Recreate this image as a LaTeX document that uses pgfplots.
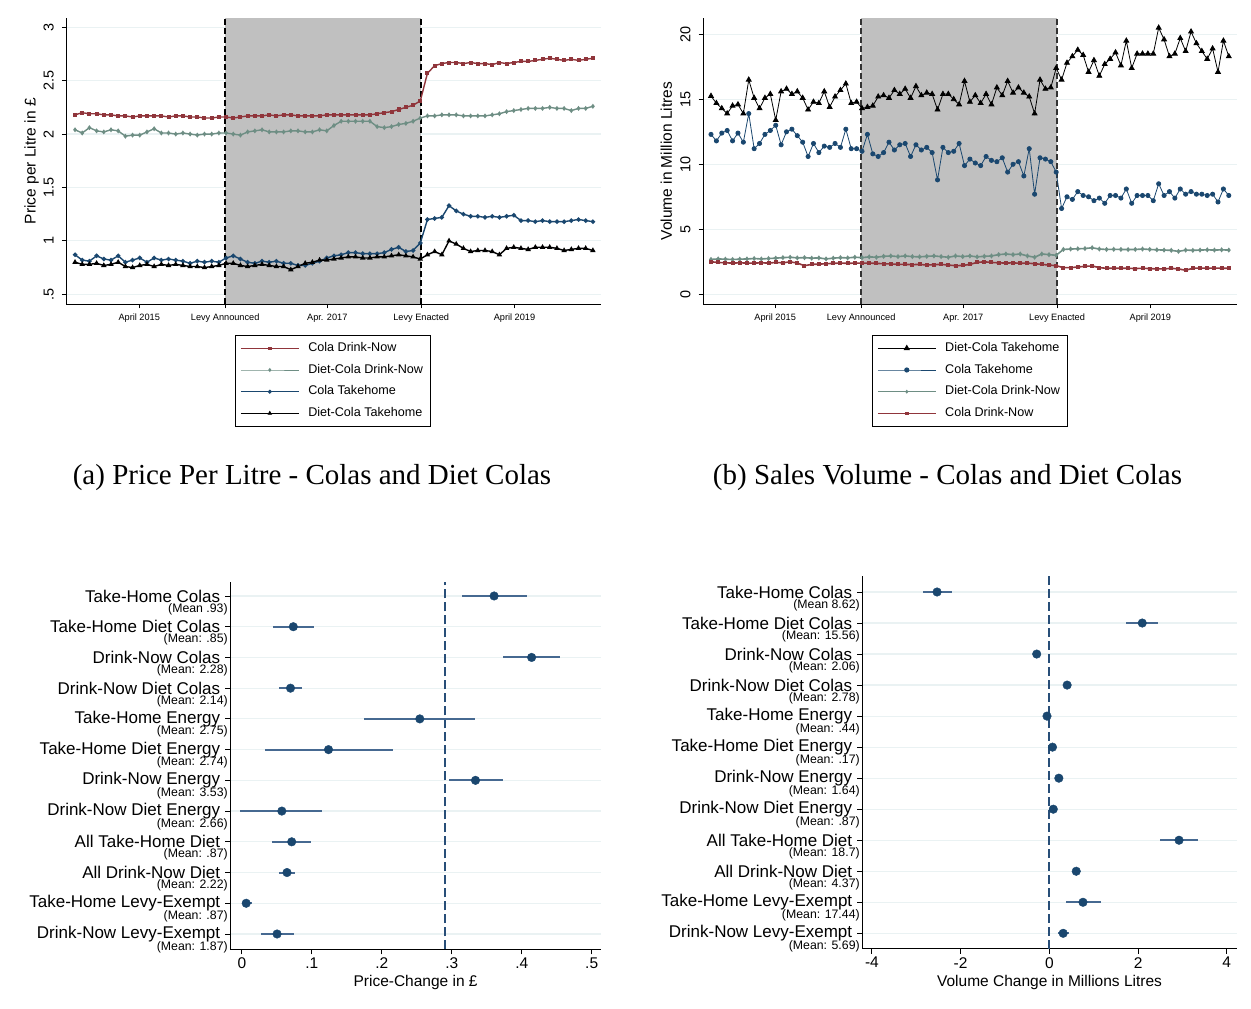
\documentclass[border=0pt]{standalone}
\usepackage{fontspec}
\usepackage{pgfplots}
\usepackage{pgfplotstable}
\pgfplotsset{compat=1.18}
\newfontfamily\arial{Liberation Sans}
\newfontfamily\capserif{Liberation Serif}
\newcommand\fs[1]{\arial\fontsize{#1}{#1}\selectfont}
\definecolor{maroonS}{RGB}{144,53,59}
\definecolor{tealS}{RGB}{110,142,132}
\definecolor{navyS}{RGB}{26,71,111}
\definecolor{ciS}{RGB}{70,105,145}
\definecolor{dashS}{RGB}{40,78,120}
\definecolor{gridS}{RGB}{234,242,243}
\definecolor{shadeS}{RGB}{192,192,192}

% ---------- Panel (a): price per litre, every 4 weeks ----------
\pgfplotstableread[row sep=\\]{v\\
2.18\\2.20\\2.19\\2.19\\2.18\\2.18\\2.17\\2.17\\2.16\\2.17\\
2.17\\2.17\\2.17\\2.16\\2.17\\2.17\\2.16\\2.16\\2.15\\2.15\\
2.16\\2.16\\2.15\\2.16\\2.17\\2.17\\2.17\\2.18\\2.17\\2.18\\
2.18\\2.17\\2.17\\2.17\\2.17\\2.18\\2.18\\2.18\\2.18\\2.18\\
2.18\\2.18\\2.19\\2.20\\2.21\\2.23\\2.25\\2.27\\2.31\\2.57\\
2.64\\2.66\\2.67\\2.67\\2.66\\2.67\\2.66\\2.66\\2.65\\2.67\\
2.66\\2.67\\2.68\\2.68\\2.69\\2.70\\2.71\\2.70\\2.69\\2.70\\
2.69\\2.70\\2.71\\
}\PaRed
\pgfplotstableread[row sep=\\]{v\\
2.04\\2.01\\2.06\\2.03\\2.02\\2.04\\2.03\\1.98\\1.99\\1.99\\
2.02\\2.05\\2.01\\2.01\\2.00\\2.01\\2.00\\1.99\\2.00\\2.00\\
2.01\\2.01\\2.00\\1.99\\2.02\\2.03\\2.04\\2.02\\2.02\\2.02\\
2.03\\2.03\\2.02\\2.02\\2.04\\2.03\\2.08\\2.12\\2.12\\2.12\\
2.12\\2.12\\2.07\\2.06\\2.07\\2.09\\2.10\\2.12\\2.15\\2.17\\
2.17\\2.18\\2.18\\2.18\\2.17\\2.17\\2.17\\2.17\\2.18\\2.19\\
2.21\\2.22\\2.23\\2.24\\2.24\\2.24\\2.25\\2.24\\2.24\\2.22\\
2.24\\2.24\\2.26\\
}\PaGreen
\pgfplotstableread[row sep=\\]{v\\
0.87\\0.82\\0.81\\0.86\\0.83\\0.82\\0.86\\0.80\\0.82\\0.84\\
0.80\\0.84\\0.82\\0.83\\0.82\\0.81\\0.79\\0.81\\0.80\\0.81\\
0.80\\0.84\\0.86\\0.83\\0.80\\0.79\\0.81\\0.80\\0.81\\0.79\\
0.79\\0.77\\0.77\\0.79\\0.81\\0.84\\0.86\\0.87\\0.89\\0.89\\
0.88\\0.88\\0.88\\0.89\\0.92\\0.94\\0.90\\0.91\\0.98\\1.20\\
1.21\\1.22\\1.33\\1.28\\1.25\\1.23\\1.23\\1.22\\1.23\\1.22\\
1.23\\1.24\\1.19\\1.19\\1.18\\1.19\\1.18\\1.18\\1.18\\1.19\\
1.20\\1.19\\1.18\\
}\PaBlue
\pgfplotstableread[row sep=\\]{v\\
0.80\\0.78\\0.78\\0.79\\0.77\\0.78\\0.80\\0.76\\0.75\\0.77\\
0.78\\0.76\\0.78\\0.77\\0.78\\0.77\\0.76\\0.76\\0.75\\0.76\\
0.77\\0.79\\0.79\\0.77\\0.76\\0.77\\0.78\\0.77\\0.76\\0.76\\
0.73\\0.76\\0.79\\0.80\\0.82\\0.82\\0.83\\0.84\\0.85\\0.85\\
0.84\\0.84\\0.85\\0.85\\0.86\\0.87\\0.86\\0.85\\0.83\\0.87\\
0.90\\0.87\\1.00\\0.97\\0.93\\0.90\\0.91\\0.91\\0.90\\0.87\\
0.93\\0.94\\0.93\\0.92\\0.94\\0.94\\0.94\\0.93\\0.91\\0.92\\
0.93\\0.93\\0.91\\
}\PaBlack

% ---------- Panel (b): volumes ----------
% every 3 weeks
\pgfplotstableread[row sep=\\]{v\\
15.25\\14.7\\14.3\\13.9\\14.5\\14.6\\13.9\\16.5\\15.1\\14.3\\
15.1\\15.4\\13.4\\15.6\\15.8\\15.4\\15.6\\15.1\\14.2\\14.8\\
14.7\\15.6\\14.4\\15.2\\15.7\\16.2\\14.7\\14.8\\14.3\\14.4\\
14.5\\15.2\\15.3\\15.1\\15.7\\15.4\\15.8\\15.1\\16.0\\15.3\\
15.5\\15.4\\14.2\\15.4\\15.4\\15.0\\14.6\\16.4\\14.8\\15.3\\
14.7\\15.4\\14.6\\15.9\\15.3\\16.4\\15.5\\15.9\\15.5\\15.2\\
13.9\\16.5\\15.8\\15.9\\17.4\\16.5\\17.8\\18.3\\18.8\\18.4\\
17.1\\18.0\\16.8\\17.7\\18.1\\18.6\\17.6\\19.5\\17.4\\18.5\\
18.5\\18.5\\18.5\\20.5\\19.6\\18.3\\18.5\\19.7\\18.7\\20.2\\
19.3\\18.7\\18.1\\18.9\\17.1\\19.5\\18.3\\
}\PbBlack
\pgfplotstableread[row sep=\\]{v\\
12.3\\11.8\\12.4\\12.6\\11.8\\12.4\\11.7\\13.9\\11.2\\11.6\\
12.3\\12.6\\13.0\\11.5\\12.5\\12.7\\12.2\\11.7\\10.6\\11.6\\
10.9\\11.4\\11.3\\11.6\\11.3\\12.7\\11.2\\11.2\\11.0\\12.3\\
10.8\\10.6\\10.9\\11.7\\11.1\\11.5\\11.6\\10.6\\11.5\\11.1\\
11.3\\10.9\\8.8\\11.3\\10.9\\11.0\\11.6\\9.9\\10.4\\10.1\\
9.9\\10.6\\10.3\\10.2\\10.5\\9.4\\10.0\\10.2\\9.1\\11.2\\
7.7\\10.5\\10.4\\10.2\\9.4\\6.6\\7.5\\7.3\\7.9\\7.6\\
7.5\\7.2\\7.4\\7.0\\7.6\\7.6\\7.4\\8.1\\7.0\\7.6\\
7.6\\7.6\\7.2\\8.5\\7.6\\7.9\\7.4\\8.1\\7.7\\7.9\\
7.7\\7.7\\7.6\\7.7\\7.1\\8.1\\7.6\\
}\PbBlue
% every 4 weeks
\pgfplotstableread[row sep=\\]{v\\
2.68\\2.72\\2.70\\2.68\\2.70\\2.72\\2.75\\2.72\\2.75\\2.78\\
2.82\\2.85\\2.80\\2.82\\2.78\\2.80\\2.72\\2.78\\2.82\\2.80\\
2.85\\2.82\\2.88\\2.85\\2.92\\2.95\\2.90\\2.95\\2.90\\2.88\\
2.92\\2.95\\2.90\\2.85\\2.95\\2.90\\2.95\\2.88\\2.92\\2.95\\
3.05\\3.10\\3.05\\3.10\\2.95\\2.85\\3.10\\3.05\\3.00\\3.45\\
3.48\\3.50\\3.52\\3.58\\3.48\\3.45\\3.46\\3.45\\3.44\\3.45\\
3.48\\3.45\\3.42\\3.40\\3.38\\3.30\\3.40\\3.38\\3.40\\3.42\\
3.40\\3.42\\3.40\\
}\PbGreen
\pgfplotstableread[row sep=\\]{v\\
2.50\\2.45\\2.42\\2.40\\2.42\\2.40\\2.40\\2.42\\2.40\\2.45\\
2.42\\2.50\\2.40\\2.20\\2.30\\2.32\\2.35\\2.38\\2.40\\2.38\\
2.40\\2.40\\2.40\\2.38\\2.35\\2.33\\2.30\\2.30\\2.28\\2.30\\
2.25\\2.28\\2.30\\2.25\\2.20\\2.22\\2.30\\2.45\\2.50\\2.45\\
2.42\\2.40\\2.42\\2.38\\2.40\\2.35\\2.30\\2.25\\2.20\\2.05\\
2.05\\2.10\\2.15\\2.18\\2.05\\2.00\\2.00\\2.00\\2.00\\1.98\\
2.00\\1.98\\1.95\\1.95\\2.00\\1.95\\1.85\\2.00\\2.02\\2.00\\
2.02\\2.00\\2.00\\
}\PbRed

% ---------- Panel (c), (d): estimates ----------
\pgfplotstableread{
y x em ep
12 0.3605 0.0452 0.0469
11 0.0735 0.0295 0.0299
10 0.4141 0.0406 0.0402
9 0.0695 0.0164 0.0170
8 0.2543 0.0798 0.0796
7 0.1238 0.0911 0.0926
6 0.3339 0.0384 0.0396
5 0.0571 0.0591 0.0576
4 0.0712 0.0277 0.0283
3 0.0645 0.0119 0.0112
2 0.0062 0.0062 0.0085
1 0.0503 0.0226 0.0237
}\Pc
\pgfplotstableread{
y x em ep
12 -2.531 0.32 0.33
11 2.094 0.356 0.357
10 -0.285 0.05 0.05
9 0.401 0.05 0.05
8 -0.053 0.05 0.05
7 0.071 0.05 0.05
6 0.214 0.05 0.05
5 0.089 0.05 0.05
4 2.923 0.42 0.42
3 0.606 0.05 0.05
2 0.758 0.39 0.40
1 0.312 0.11 0.13
}\Pd

\pgfplotsset{
 topax/.style={
  scale only axis, anchor=south west, height=285.7pt,
  axis x line*=bottom, axis y line*=left,
  axis line style={black, line width=0.9pt},
  xmin=-4.8, xmax=292.4,
  xtick={35.7,83.5,140.3,192.5,244.4},
  xticklabels={April 2015,Levy Announced,Apr. 2017,Levy Enacted,April 2019},
  tick align=outside, major tick length=4.5pt,
  tick style={black, line width=0.9pt},
  xticklabel style={font=\fs{9.2}, inner sep=1pt, yshift=-4pt},
  yticklabel style={font=\fs{14.4}, rotate=90, anchor=south, inner sep=8pt},
  ymajorgrids, grid style={gridS, line width=1.2pt},
  ylabel style={font=\fs{15.5}, anchor=center},
  legend style={anchor=north west, draw=black, line width=0.7pt, font=\fs{12.6},
    inner xsep=5pt, inner ysep=5.2pt, row sep=6.2pt,
    nodes={inner sep=2pt, text height=9pt, text depth=2.5pt},
    /tikz/every odd column/.append style={column sep=7pt}},
  legend cell align=left,
  legend image post style={line width=0.9pt},
  legend image code/.code={\draw[mark repeat=2,mark phase=2,##1] plot coordinates {(0pt,0pt) (29pt,0pt) (58pt,0pt)};},
 },
 botax/.style={
  scale only axis, anchor=south west,
  axis x line*=bottom, axis y line*=left,
  axis line style={black, line width=0.9pt},
  tick align=outside, major tick length=5pt,
  tick style={black, line width=0.9pt},
  ytick={1,2,3,4,5,6,7,8,9,10,11,12},
  ymajorgrids, grid style={gridS, line width=1.2pt},
  yticklabel style={font=\fs{17}, inner sep=0pt, xshift=-5pt},
  xticklabel style={font=\fs{15.5}},
  xlabel style={font=\fs{15.5}, anchor=center},
  extra y ticks={0.58,1.58,2.58,3.58,4.58,5.58,6.58,7.58,8.58,9.58,10.58,11.58},
  extra y tick style={major tick length=0pt, grid=none, yticklabel style={font=\fs{12.3}, xshift=2.5pt}},
 },
}

\begin{document}
\begin{tikzpicture}[font=\arial]
\useasboundingbox (0pt,0pt) rectangle (1251pt,1009pt);

% ===== Panel (a)
\begin{axis}[topax, at={(66.4pt,705pt)}, width=534.4pt,
  ymin=0.409, ymax=3.084,
  ytick={0.5,1,1.5,2,2.5,3}, yticklabels={.5,1,1.5,2,2.5,3},
  ylabel={Price per Litre in £}, ylabel style={at={(axis description cs:-0.0651,0.5)}},
  legend style={at={(0.3155,-0.1085)}}]
\fill[shadeS] (83.5,0.409) rectangle (192.5,3.084);
\draw[black, line width=1.5pt, dash pattern=on 6pt off 3pt] (83.5,0.409) -- (83.5,3.084);
\draw[black, line width=1.5pt, dash pattern=on 6pt off 3pt] (192.5,0.409) -- (192.5,3.084);
\addplot[maroonS, line width=1.4pt, mark=square*, mark size=1.3pt] table[x expr=\coordindex*4, y=v] {\PaRed};
\addlegendentry{Cola Drink-Now}
\addplot[tealS, line width=1.4pt, mark=diamond*, mark size=1.4pt] table[x expr=\coordindex*4, y=v] {\PaGreen};
\addlegendentry{Diet-Cola Drink-Now}
\addplot[navyS, line width=1.4pt, mark=*, mark size=1.5pt] table[x expr=\coordindex*4, y=v] {\PaBlue};
\addlegendentry{Cola Takehome}
\addplot[black, line width=1.4pt, mark=triangle*, mark size=1.8pt] table[x expr=\coordindex*4, y=v] {\PaBlack};
\addlegendentry{Diet-Cola Takehome}
\end{axis}

% ===== Panel (b)
\begin{axis}[topax, at={(703.1pt,705pt)}, width=533.6pt,
  xmin=-4.39,
  ymin=-0.746, ymax=21.23,
  ytick={0,5,10,15,20}, yticklabels={0,5,10,15,20},
  ylabel={Volume in Million Litres}, ylabel style={at={(axis description cs:-0.0688,0.5)}},
  legend style={at={(0.3165,-0.1085)}}]
\fill[shadeS] (83.5,-0.746) rectangle (192.5,21.23);
\draw[black!80, line width=1.5pt, dash pattern=on 6pt off 3pt] (83.5,-0.746) -- (83.5,21.23);
\draw[black!80, line width=1.5pt, dash pattern=on 6pt off 3pt] (192.5,-0.746) -- (192.5,21.23);
\addplot[black, line width=0.8pt, mark=triangle*, mark size=2.8pt] table[x expr=\coordindex*3, y=v] {\PbBlack};
\addlegendentry{Diet-Cola Takehome}
\addplot[navyS, line width=0.8pt, mark=*, mark size=2.1pt] table[x expr=\coordindex*3, y=v] {\PbBlue};
\addlegendentry{Cola Takehome}
\addplot[tealS, line width=1.6pt, mark=diamond*, mark size=1.3pt] table[x expr=\coordindex*4, y=v] {\PbGreen};
\addlegendentry{Diet-Cola Drink-Now}
\addplot[maroonS, line width=1.6pt, mark=square*, mark size=1.2pt] table[x expr=\coordindex*4, y=v] {\PbRed};
\addlegendentry{Cola Drink-Now}
\end{axis}

% ===== Panel (c)
\begin{axis}[botax, at={(230.4pt,59.7pt)}, width=370.4pt, height=367.6pt,
  xmin=-0.0164, xmax=0.513, ymin=0.502, ymax=12.465,
  xtick={0,0.1,0.2,0.3,0.4,0.5}, xticklabels={0,.1,.2,.3,.4,.5},
  xlabel={Price-Change in £}, xlabel style={at={(axis description cs:0.5,-0.0898)}},
  yticklabels={Drink-Now Levy-Exempt,Take-Home Levy-Exempt,All Drink-Now Diet,All Take-Home Diet,Drink-Now Diet Energy,Drink-Now Energy,Take-Home Diet Energy,Take-Home Energy,Drink-Now Diet Colas,Drink-Now Colas,Take-Home Diet Colas,Take-Home Colas},
  extra y tick labels={(Mean: 1.87),(Mean: .87),(Mean: 2.22),(Mean: .87),(Mean: 2.66),(Mean: 3.53),(Mean: 2.74),(Mean: 2.75),(Mean: 2.14),(Mean: 2.28),(Mean: .85),(Mean .93)}]
\draw[dashS, line width=2pt, dash pattern=on 9pt off 4pt] (0.291,0.502) -- (0.291,12.465);
\addplot[only marks, mark=*, mark size=4.3pt, color=navyS,
  error bars/.cd, x dir=both, x explicit, error mark=none, error bar style={ciS, line width=2pt}]
  table[x=x, y=y, x error plus=ep, x error minus=em] {\Pc};
\end{axis}

% ===== Panel (d)
\begin{axis}[botax, at={(862.4pt,60.3pt)}, width=374.3pt, height=372.7pt,
  xmin=-4.214, xmax=4.223, ymin=0.504, ymax=12.516,
  xtick={-4,-2,0,2,4}, xticklabels={-4,-2,0,2,4},
  xlabel={Volume Change in Millions Litres}, xlabel style={at={(axis description cs:0.5,-0.0902)}},
  yticklabels={Drink-Now Levy-Exempt,Take-Home Levy-Exempt,All Drink-Now Diet,All Take-Home Diet,Drink-Now Diet Energy,Drink-Now Energy,Take-Home Diet Energy,Take-Home Energy,Drink-Now Diet Colas,Drink-Now Colas,Take-Home Diet Colas,Take-Home Colas},
  extra y tick labels={(Mean: 5.69),(Mean: 17.44),(Mean: 4.37),(Mean: 18.7),(Mean: .87),(Mean: 1.64),(Mean: .17),(Mean: .44),(Mean: 2.78),(Mean: 2.06),(Mean: 15.56),(Mean 8.62)}]
\draw[dashS, line width=2pt, dash pattern=on 9pt off 4pt] (0,0.504) -- (0,12.516);
\addplot[only marks, mark=*, mark size=4.3pt, color=navyS,
  error bars/.cd, x dir=both, x explicit, error mark=none, error bar style={ciS, line width=2pt}]
  table[x=x, y=y, x error plus=ep, x error minus=em] {\Pd};
\end{axis}

% ===== Captions
\node[font=\capserif\fontsize{29}{33}\selectfont] at (312pt,531pt) {(a) Price Per Litre - Colas and Diet Colas};
\node[font=\capserif\fontsize{29}{33}\selectfont] at (947.5pt,531pt) {(b) Sales Volume - Colas and Diet Colas};
\end{tikzpicture}
\end{document}
